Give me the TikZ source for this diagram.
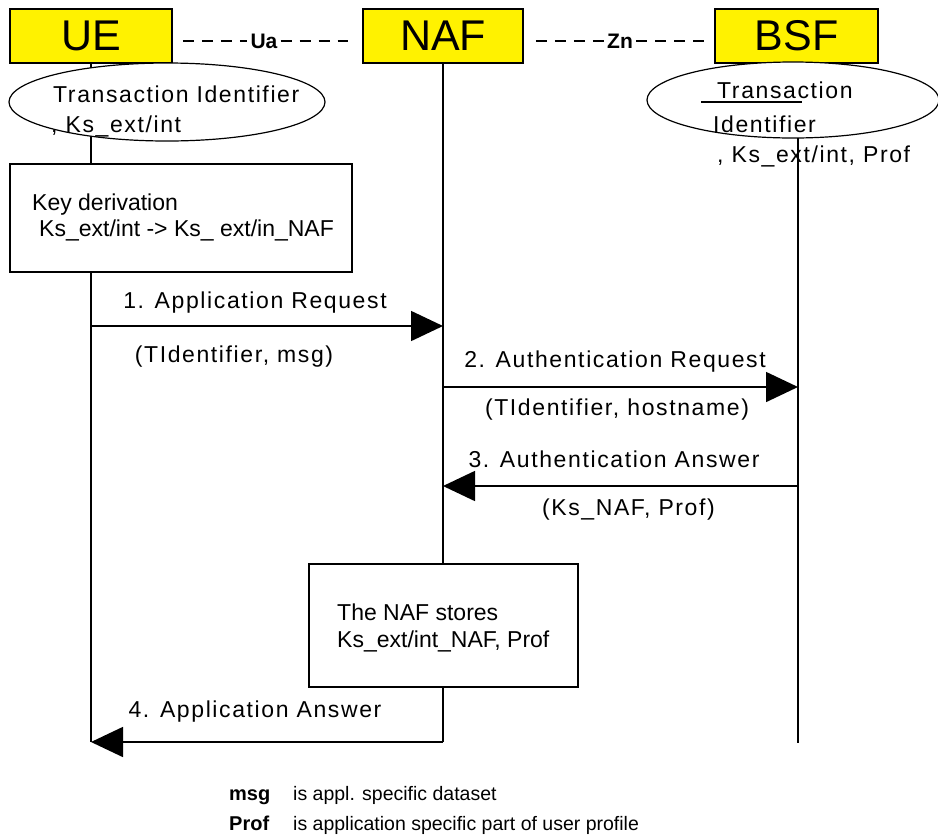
\documentclass[tikz,border=0pt]{standalone}
\usepackage{fontspec}
\setmainfont{Liberation Sans}
\usetikzlibrary{arrows.meta,shapes.geometric}
\begin{document}
\begin{tikzpicture}[x=1pt,y=-1pt,
  ent/.style={draw=black, line width=1.6pt, fill=yellow, inner sep=0pt,
    font=\fontsize{43}{43}\selectfont},
  idbox/.style={draw=black, line width=1.2pt, fill=white, ellipse, inner sep=0pt},
  procbox/.style={draw=black, line width=1.6pt, fill=white, rectangle, inner sep=0pt},
  life/.style={line width=1.6pt},
  msg/.style={line width=1.6pt, -{Triangle[length=32pt,width=30pt]}},
  iface/.style={line width=1.4pt, dash pattern=on 11pt off 8pt},
  ifname/.style={font=\fontsize{21}{21}\selectfont\bfseries, inner sep=3pt},
  lbl/.style={font=\fontsize{23}{27}\selectfont\addfontfeatures{LetterSpace=7}, inner sep=0pt},
  txt/.style={font=\fontsize{23}{27}\selectfont, inner sep=0pt},
  legkey/.style={font=\fontsize{20}{24}\selectfont\bfseries, inner sep=0pt},
  legtxt/.style={font=\fontsize{19.5}{24}\selectfont, inner sep=0pt}
]
\useasboundingbox (0,0) rectangle (938,839);
\fill[white] (0,0) rectangle (938,839);

% entities
\node[ent, minimum width=162pt, minimum height=54pt] (ue) at (91,36) {UE};
\node[ent, minimum width=160pt, minimum height=54pt] (naf) at (443,36) {NAF};
\node[ent, minimum width=163pt, minimum height=54pt] (bsf) at (796.5,36) {BSF};

% lifeline end points
\coordinate (ueend) at (91,742);
\coordinate (nafend) at (443,742);
\coordinate (bsfend) at (798,743);
\coordinate (bsftop) at (798,63);

% lifelines (drawn first, covered by boxes)
\draw[life] (ue.south) -- (ueend);
\draw[life] (naf.south) -- (nafend);
\draw[life] (bsftop) -- (bsfend);

% interfaces
\node[ifname] (ua) at (264,41) {Ua};
\node[ifname] (zn) at (620,41) {Zn};
\draw[iface, shorten <=10pt] (ue.east |- ua.west) -- (ua.west);
\draw[iface, shorten >=14pt] (ua.east) -- (naf.west |- ua.east);
\draw[iface, shorten <=12pt] (naf.east |- zn.west) -- (zn.west);
\draw[iface, shorten >=8pt] (zn.east) -- (bsf.west |- zn.east);

% ellipses
\node[idbox, minimum width=316pt, minimum height=78pt] (ueell) at (167,102) {};
\node[idbox, minimum width=292pt, minimum height=76pt] (bsfell) at (793,100) {};
\node[lbl, anchor=base west] (uet1) at (53,102) {Transaction Identifier};
\node[lbl, anchor=base west] (uet2) at (51,132) {, Ks\_ext/int};
\node[lbl, anchor=base west] (bst1) at (717,98) {Transaction};
\draw[line width=1.2pt] (701,102) -- (802,102);
\node[lbl, anchor=base west] (bst2) at (713,132) {Identifier};
\node[lbl, anchor=base west] (bst3) at (717,162) {, Ks\_ext/int, Prof};

% process boxes
\node[procbox, minimum width=342pt, minimum height=108pt] (kd) at (181,218) {};
\node[txt, anchor=base west] (kdt1) at (32,210) {Key derivation};
\node[txt, anchor=base west] (kdt2) at (39,236) {Ks\_ext/int -> Ks\_ ext/in\_NAF};

\node[procbox, minimum width=269pt, minimum height=123pt] (store) at (443.5,625.5) {};
\node[txt, anchor=base west] (st1) at (337,620) {The NAF stores};
\node[txt, anchor=base west] (st2) at (337,647) {Ks\_ext/int\_NAF, Prof};

% messages
\coordinate (u1) at (91,326);  \coordinate (n1) at (443,326);
\coordinate (n2) at (443,387); \coordinate (b2) at (798,387);
\coordinate (b3) at (798,486); \coordinate (n3) at (443,486);
\coordinate (n4) at (443,742); \coordinate (u4) at (91,742);

\draw[msg] (u1) -- (n1);
\draw[msg] (n2) -- (b2);
\draw[msg] (b3) -- (n3);
\draw[msg] (n4) -- (u4);

\node[lbl, anchor=base] (m1a) at (255,308) {1. Application Request};
\node[lbl, anchor=base] (m1b) at (234,362) {(TIdentifier, msg)};
\node[lbl, anchor=base] (m2a) at (615,367) {2. Authentication Request};
\node[lbl, anchor=base] (m2b) at (617,415) {(TIdentifier, hostname)};
\node[lbl, anchor=base] (m3a) at (614,467) {3. Authentication Answer};
\node[lbl, anchor=base east] (m3b) at (715,515) {(Ks\_NAF, Prof)};
\node[lbl, anchor=base] (m4a) at (255,717) {4. Application Answer};

% legend
\node[legkey, anchor=base west] (k1) at (229,800) {msg};
\node[legtxt, anchor=base west] (d1) at (293,800) {is appl. specific dataset};
\node[legkey, anchor=base west] (k2) at (229,830) {Prof};
\node[legtxt, anchor=base west] (d2) at (293,830) {is application specific part of user profile};
\end{tikzpicture}
\end{document}
